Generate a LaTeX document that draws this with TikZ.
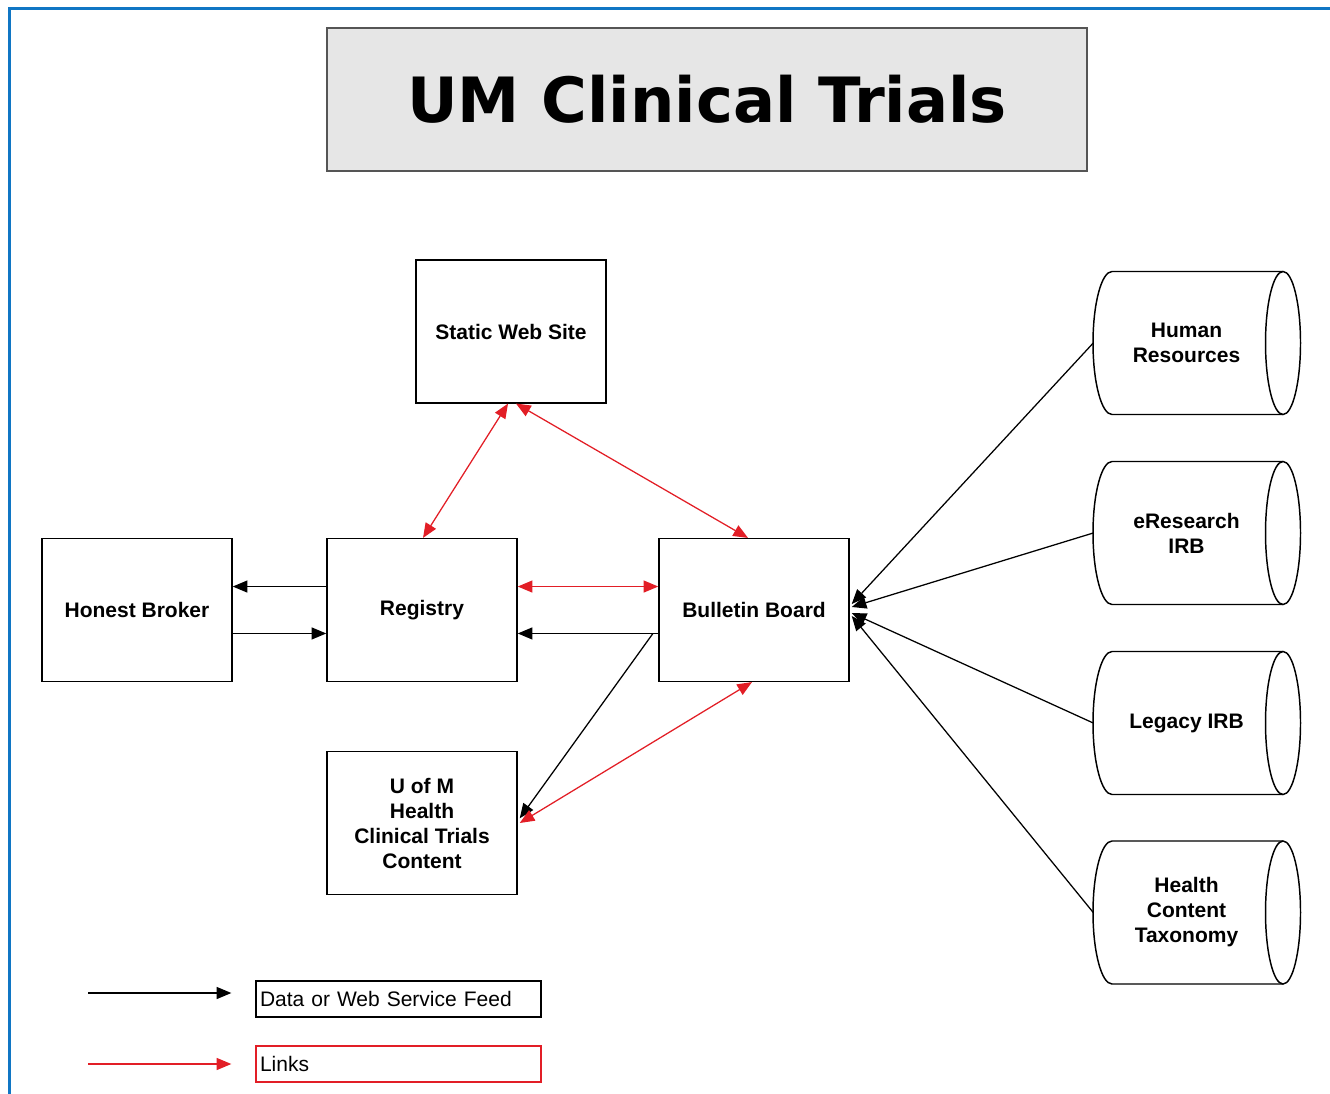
\documentclass[tikz,border=0pt]{standalone}
\usepackage{fontspec}
\setmainfont{Liberation Sans}
\newfontfamily\titlefont{DejaVu Sans}
\usetikzlibrary{calc,arrows.meta}
\definecolor{linkred}{RGB}{226,30,38}
\definecolor{frameblue}{RGB}{16,118,196}
\definecolor{titlegray}{RGB}{230,230,230}
\definecolor{titleline}{RGB}{85,85,85}
\newcommand\boxfont{\fontsize{15.75pt}{18.75pt}\selectfont\bfseries}

\begin{document}
\begin{tikzpicture}[x=0.75pt,y=-0.75pt,
    box/.style={draw,line width=1.1pt,minimum width=142.5pt,minimum height=107pt,inner sep=2pt,align=center,font=\boxfont},
    drum/.style={minimum width=139.5pt,minimum height=107pt,inner sep=0pt,align=center,font=\boxfont},
    feed/.style={line width=0.95pt,-{Triangle[length=11pt,width=9pt]}},
    link/.style={line width=0.95pt,linkred,{Triangle[length=11pt,width=9pt]}-{Triangle[length=11pt,width=9pt]}},
    key/.style={draw,line width=1pt,minimum width=213.75pt,minimum height=27pt,inner xsep=3pt,text width=207.75pt,align=left,font=\fontsize{15.75pt}{18pt}\selectfont}]
\useasboundingbox (0,0) rectangle (1330,1094);
\draw[frameblue,line width=2.25pt](9,1094)--(9,9)--(1330,9);
\node[draw=titleline,fill=titlegray,line width=1.5pt,minimum width=570pt,minimum height=107pt,font=\titlefont\bfseries\fontsize{46.8pt}{50pt}\selectfont] (title) at (707,99.5) {UM Clinical Trials};
\node[box] (sws) at (511,331.5) {Static Web Site};
\node[box] (hb) at (137,610) {Honest Broker};
\node[box] (reg) at (422,610) {Registry};
\node[box] (bb) at (754,610) {Bulletin Board};
\node[box] (uom) at (422,823) {U of M\\Health\\Clinical Trials\\Content};
\foreach \n/\yy/\txt in {hr/343/Human\\Resources, eirb/533/eResearch\\IRB, lirb/723/Legacy IRB, hct/912.5/Health\\Content\\Taxonomy} {
    \draw[line width=1.1pt](1283,\yy-71.5)--(1112,\yy-71.5) arc[start angle=270,end angle=90,x radius=19,y radius=71.5]--(1283,\yy+71.5);
    \draw[line width=1.1pt](1283,\yy) ellipse[x radius=17.5,y radius=71.5];
    \node[drum] (\n) at (1186.5,\yy) {\txt};
}
\draw[feed]([yshift=17.6pt]reg.west)--([yshift=17.6pt]hb.east);
\draw[feed]([yshift=-17.6pt]hb.east)--([yshift=-17.6pt]reg.west);
\draw[link]([yshift=17.6pt]reg.east)--([yshift=17.6pt]bb.west);
\draw[feed]([yshift=-17.6pt]bb.west)--([yshift=-17.6pt]reg.east);
\draw[link]([xshift=0.75pt]reg.north)--([xshift=-2.25pt]sws.south);
\draw[link]([xshift=3.75pt]sws.south)--([xshift=-4.5pt]bb.north);
\draw[feed]([yshift=-17.6pt,xshift=-4pt]bb.west)--([yshift=3.5pt,xshift=1.5pt]uom.east);
\draw[link]([xshift=1.5pt]uom.east)--([xshift=-1.5pt]bb.south);
\foreach \n/\dy in {hr/4.5pt, eirb/2.25pt, lirb/-2.25pt, hct/-4.5pt}
    \draw[feed](\n.west)--([yshift=\dy,xshift=1.5pt]bb.east);
% legend
\node[key] (feedkey) at (398.5,999) {Data or Web Service Feed};
\node[key,draw=linkred] (linkkey) at (398.5,1064) {Links};
\coordinate (feedtail) at (88,993);
\coordinate (linktail) at (88,1064);
\draw[feed](feedtail)--(feedtail-|{$(feedkey.west)+(-24,0)$});
\draw[feed,linkred](linktail)--(linktail-|{$(linkkey.west)+(-24,0)$});
\end{tikzpicture}
\end{document}
